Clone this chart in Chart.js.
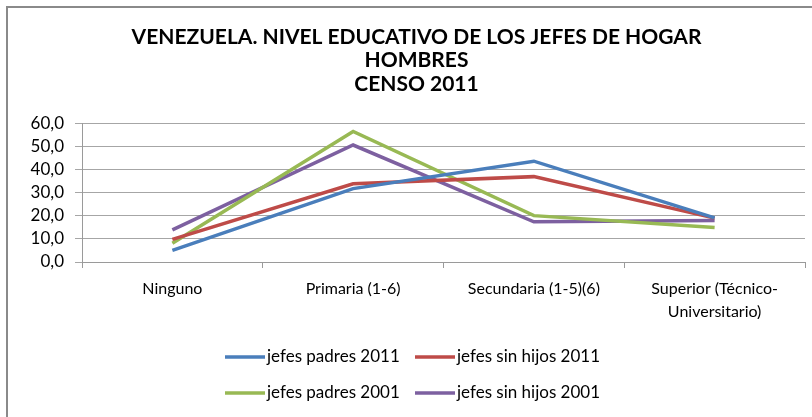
<!DOCTYPE html>
<html>
<head>
<meta charset="utf-8">
<script src="https://cdn.jsdelivr.net/npm/chart.js@4.4.1/dist/chart.umd.min.js"></script>
<style>
  html, body { margin: 0; padding: 0; background: #ffffff; }
  #wrap { width: 812px; height: 417px; }
</style>
</head>
<body>
<div id="wrap"><canvas id="chart" width="812" height="417"></canvas></div>
<script>
// Categories and series (percent of male household heads)
const categories = ['Ninguno', 'Primaria (1-6)', 'Secundaria (1-5)(6)', ['Superior (Técnico-', 'Universitario)']];
const padres2011 = [5.0, 31.8, 43.7, 19.1];
const sinHijos2011 = [9.8, 33.9, 37.0, 19.0];
const padres2001 = [8.1, 56.6, 20.1, 15.0];
const sinHijos2001 = [13.9, 50.7, 17.4, 18.0];
const seriesNames = ['jefes padres 2011', 'jefes sin hijos 2011', 'jefes padres 2001', 'jefes sin hijos 2001'];
const titleLines = ['VENEZUELA. NIVEL EDUCATIVO DE LOS JEFES DE HOGAR', 'HOMBRES', 'CENSO 2011'];

const colors = ['#4a7ebb', '#be4b48', '#98b954', '#7d60a0'];
const fontFamily = 'Lato, "Open Sans", "DejaVu Sans", sans-serif';

// Outer frame like the spreadsheet chart border
const framePlugin = {
  id: 'frame',
  beforeDraw(chart) {
    const ctx = chart.ctx;
    ctx.save();
    ctx.strokeStyle = '#8a8a8a';
    ctx.lineWidth = 2;
    ctx.strokeRect(7, 7, chart.width + 20, chart.height + 20);
    ctx.restore();
  }
};

// Legend drawn in a 2 x 2 grid below the axis
const gridLegendPlugin = {
  id: 'gridLegend',
  afterDraw(chart) {
    const ctx = chart.ctx;
    const cols = [225, 415];
    const rows = [357, 393];
    ctx.save();
    ctx.font = '17px ' + fontFamily;
    ctx.textBaseline = 'middle';
    ctx.fillStyle = '#000000';
    chart.data.datasets.forEach((ds, i) => {
      const x = cols[i % 2];
      const y = rows[Math.floor(i / 2)];
      ctx.strokeStyle = ds.borderColor;
      ctx.lineWidth = 3.5;
      ctx.beginPath();
      ctx.moveTo(x, y);
      ctx.lineTo(x + 40, y);
      ctx.stroke();
      ctx.fillText(ds.label, x + 42, y);
    });
    ctx.restore();
  }
};

const seriesValues = [padres2011, sinHijos2011, padres2001, sinHijos2001];

const chart = new Chart(document.getElementById('chart').getContext('2d'), {
  type: 'line',
  data: {
    labels: categories,
    datasets: seriesValues.map((vals, i) => ({
      label: seriesNames[i],
      data: vals,
      borderColor: colors[i],
      backgroundColor: colors[i],
      borderWidth: 3.5,
      pointRadius: 0,
      tension: 0,
      fill: false
    }))
  },
  options: {
    responsive: false,
    animation: false,
    layout: {
      padding: { left: 28, right: 7, top: 0, bottom: 98 }
    },
    plugins: {
      legend: { display: false },
      tooltip: { enabled: false },
      title: {
        display: true,
        text: titleLines,
        color: '#000000',
        font: { family: fontFamily, size: 21, weight: 'bold', lineHeight: 1.12 },
        padding: { top: 25, bottom: 28 }
      }
    },
    scales: {
      x: {
        offset: true,
        grid: {
          offset: true,
          drawOnChartArea: false,
          color: '#9a9a9a',
          tickLength: 6
        },
        border: { color: '#9a9a9a', width: 1 },
        ticks: {
          color: '#000000',
          font: { family: fontFamily, size: 16, lineHeight: 1.4 },
          maxRotation: 0,
          autoSkip: false,
          padding: 10
        },
        afterFit(scale) { scale.height = 57; }
      },
      y: {
        min: 0,
        max: 60,
        ticks: {
          stepSize: 10,
          autoSkip: false,
          color: '#000000',
          font: { family: fontFamily, size: 17, lineHeight: 1.0 },
          padding: 11,
          callback: v => v.toFixed(1).replace('.', ',')
        },
        grid: {
          color: '#a6a6a6',
          tickLength: 7
        },
        border: { color: '#9a9a9a', width: 1 },
        afterFit(scale) { scale.width = 54; }
      }
    }
  },
  plugins: [framePlugin, gridLegendPlugin]
});
</script>
</body>
</html>
